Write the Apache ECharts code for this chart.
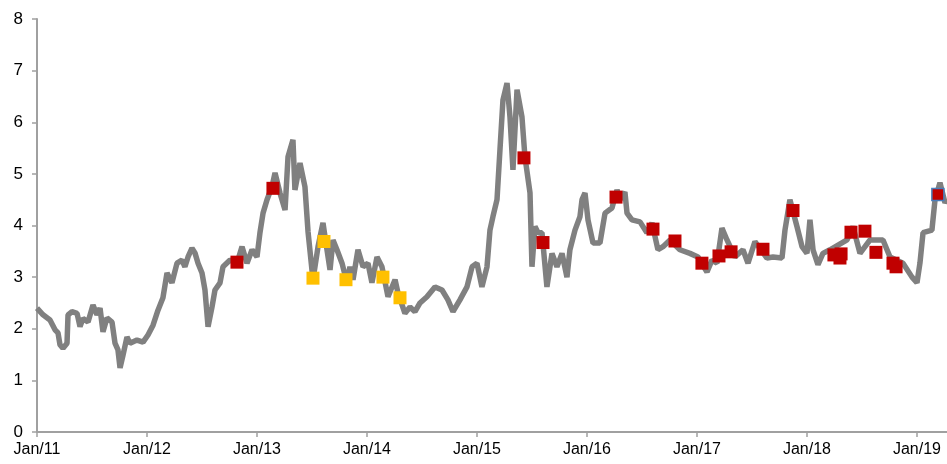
<!DOCTYPE html>
<html>
<head>
<meta charset="utf-8">
<script src="https://cdn.jsdelivr.net/npm/echarts@6/dist/echarts.min.js"></script>
<style>
  html, body { margin: 0; padding: 0; background: #fff; }
  #chart { width: 947px; height: 464px; }
</style>
</head>
<body>
<div id="chart"></div>
<script>
// line (decimal year, value)
const lineYears = [
  2011.000, 2011.055, 2011.118, 2011.164, 2011.191, 2011.209, 2011.236, 2011.273, 2011.282, 2011.318,
  2011.364, 2011.391, 2011.418, 2011.464, 2011.509, 2011.545, 2011.573, 2011.600, 2011.636, 2011.682,
  2011.709, 2011.736, 2011.755, 2011.782, 2011.818, 2011.845, 2011.909, 2011.964, 2012.009, 2012.055,
  2012.100, 2012.145, 2012.182, 2012.227, 2012.273, 2012.318, 2012.345, 2012.373, 2012.409, 2012.436,
  2012.464, 2012.500, 2012.527, 2012.555, 2012.591, 2012.618, 2012.664, 2012.691, 2012.755, 2012.818,
  2012.864, 2012.909, 2012.955, 2013.000, 2013.027, 2013.055, 2013.091, 2013.136, 2013.164, 2013.209,
  2013.255, 2013.282, 2013.327, 2013.345, 2013.391, 2013.436, 2013.464, 2013.509, 2013.527, 2013.555,
  2013.600, 2013.618, 2013.664, 2013.691, 2013.727, 2013.773, 2013.818, 2013.845, 2013.873, 2013.918,
  2013.964, 2014.009, 2014.045, 2014.091, 2014.136, 2014.191, 2014.255, 2014.282, 2014.345, 2014.391,
  2014.436, 2014.482, 2014.545, 2014.618, 2014.682, 2014.736, 2014.782, 2014.845, 2014.909, 2014.955,
  2015.000, 2015.045, 2015.091, 2015.118, 2015.145, 2015.182, 2015.209, 2015.236, 2015.273, 2015.300,
  2015.327, 2015.364, 2015.409, 2015.436, 2015.482, 2015.500, 2015.527, 2015.555, 2015.591, 2015.636,
  2015.682, 2015.727, 2015.773, 2015.818, 2015.845, 2015.891, 2015.936, 2015.955, 2015.982, 2016.009,
  2016.055, 2016.118, 2016.164, 2016.227, 2016.273, 2016.300, 2016.345, 2016.364, 2016.409, 2016.482,
  2016.545, 2016.591, 2016.645, 2016.691, 2016.755, 2016.845, 2016.936, 2017.009, 2017.091, 2017.136,
  2017.182, 2017.227, 2017.273, 2017.345, 2017.418, 2017.464, 2017.527, 2017.636, 2017.691, 2017.773,
  2017.800, 2017.845, 2017.909, 2017.955, 2018.000, 2018.027, 2018.055, 2018.100, 2018.145, 2018.209,
  2018.364, 2018.418, 2018.482, 2018.573, 2018.691, 2018.755, 2018.873, 2018.955, 2019.000, 2019.027,
  2019.055, 2019.136, 2019.164, 2019.209, 2019.255, 2019.273
];
const lineValues = [
  2.40, 2.27, 2.17, 1.98, 1.92, 1.69, 1.62, 1.72, 2.27, 2.33,
  2.30, 2.04, 2.20, 2.13, 2.46, 2.27, 2.40, 1.94, 2.21, 2.13,
  1.72, 1.59, 1.24, 1.49, 1.84, 1.72, 1.78, 1.74, 1.88, 2.07,
  2.36, 2.60, 3.08, 2.89, 3.27, 3.33, 3.20, 3.39, 3.56, 3.47,
  3.27, 3.08, 2.75, 2.04, 2.42, 2.75, 2.89, 3.20, 3.33, 3.27,
  3.59, 3.27, 3.53, 3.39, 3.86, 4.24, 4.50, 4.75, 5.02, 4.63,
  4.30, 5.33, 5.66, 4.69, 5.21, 4.75, 3.88, 2.95, 3.20, 3.59,
  4.05, 3.79, 3.14, 3.72, 3.53, 3.27, 2.89, 3.20, 2.95, 3.53,
  3.20, 3.27, 2.89, 3.39, 3.20, 2.62, 2.95, 2.69, 2.30, 2.42,
  2.33, 2.50, 2.62, 2.81, 2.75, 2.56, 2.33, 2.56, 2.81, 3.20,
  3.27, 2.81, 3.20, 3.91, 4.17, 4.50, 5.47, 6.43, 6.76, 6.10,
  5.08, 6.63, 6.10, 5.33, 4.63, 3.20, 3.98, 3.86, 3.86, 2.81,
  3.46, 3.20, 3.46, 3.00, 3.53, 3.91, 4.17, 4.50, 4.63, 4.11,
  3.66, 3.66, 4.24, 4.34, 4.69, 4.50, 4.65, 4.24, 4.11, 4.07,
  3.86, 4.05, 3.53, 3.59, 3.72, 3.53, 3.46, 3.39, 3.10, 3.33,
  3.27, 3.95, 3.72, 3.39, 3.53, 3.27, 3.69, 3.37, 3.39, 3.37,
  3.91, 4.50, 3.98, 3.59, 3.46, 4.11, 3.53, 3.24, 3.46, 3.53,
  3.72, 3.98, 3.46, 3.72, 3.72, 3.39, 3.27, 3.00, 2.89, 3.27,
  3.86, 3.91, 4.50, 4.83, 4.44, 4.50
];

// red markers
const redYears = [2012.818, 2013.145, 2015.427, 2015.600, 2016.264, 2016.600, 2016.800, 2017.045,
  2017.200, 2017.310, 2017.600, 2017.873, 2018.245, 2018.300, 2018.310, 2018.400, 2018.527,
  2018.627, 2018.782, 2018.810];
const redValues = [3.29, 4.72, 5.31, 3.67, 4.55, 3.93, 3.70, 3.27,
  3.41, 3.49, 3.54, 4.29, 3.43, 3.37, 3.45, 3.87, 3.89,
  3.48, 3.27, 3.20];

// yellow markers
const yellowYears = [2013.509, 2013.609, 2013.809, 2014.145, 2014.300];
const yellowValues = [2.98, 3.69, 2.95, 3.00, 2.60];

// latest point (outlined)
const lastYears = [2019.190];
const lastValues = [4.60];

const yTicks = { min: 0, max: 8, step: 1 };

function pairs(xs, ys) {
  return xs.map((x, i) => [x, ys[i]]);
}

const chart = echarts.init(document.getElementById('chart'));
const option = {
  animation: false,
  grid: { left: 37, right: 0, top: 19, bottom: 32 },
  xAxis: {
    type: 'value',
    min: 2011,
    max: 2019.273,
    interval: 1,
    axisLine: { lineStyle: { color: '#a0a0a0', width: 2 } },
    axisTick: { show: true, length: 5, lineStyle: { color: '#a0a0a0', width: 1.5 } },
    splitLine: { show: false },
    axisLabel: {
      showMaxLabel: false,
      margin: 10,
      color: '#000',
      fontFamily: 'Liberation Sans',
      fontSize: 16,
      formatter: v => Number.isInteger(v) ? 'Jan/' + String(v).slice(2) : ''
    }
  },
  yAxis: {
    type: 'value',
    min: yTicks.min,
    max: yTicks.max,
    interval: yTicks.step,
    axisLine: { show: true, lineStyle: { color: '#a0a0a0', width: 2 } },
    axisTick: { show: true, length: 5, lineStyle: { color: '#a0a0a0', width: 1.5 } },
    splitLine: { show: false },
    axisLabel: {
      margin: 14,
      color: '#000',
      fontFamily: 'Liberation Sans',
      fontSize: 17
    }
  },
  series: [
    {
      type: 'line',
      data: pairs(lineYears, lineValues),
      showSymbol: false,
      lineStyle: { color: '#808080', width: 5.5 },
      z: 2
    },
    {
      type: 'scatter',
      data: pairs(redYears, redValues),
      symbol: 'rect',
      symbolSize: 13,
      itemStyle: { color: '#c00000', opacity: 1 },
      z: 3
    },
    {
      type: 'scatter',
      data: pairs(yellowYears, yellowValues),
      symbol: 'rect',
      symbolSize: 13,
      itemStyle: { color: '#ffc000', opacity: 1 },
      z: 3
    },
    {
      type: 'scatter',
      data: pairs(lastYears, lastValues),
      symbol: 'rect',
      symbolSize: 12,
      itemStyle: { color: '#c00000', borderColor: '#4a7ebb', borderWidth: 1.5, opacity: 1 },
      z: 4
    }
  ]
};
chart.setOption(option);
window.addEventListener('resize', () => chart.resize());
</script>
</body>
</html>
